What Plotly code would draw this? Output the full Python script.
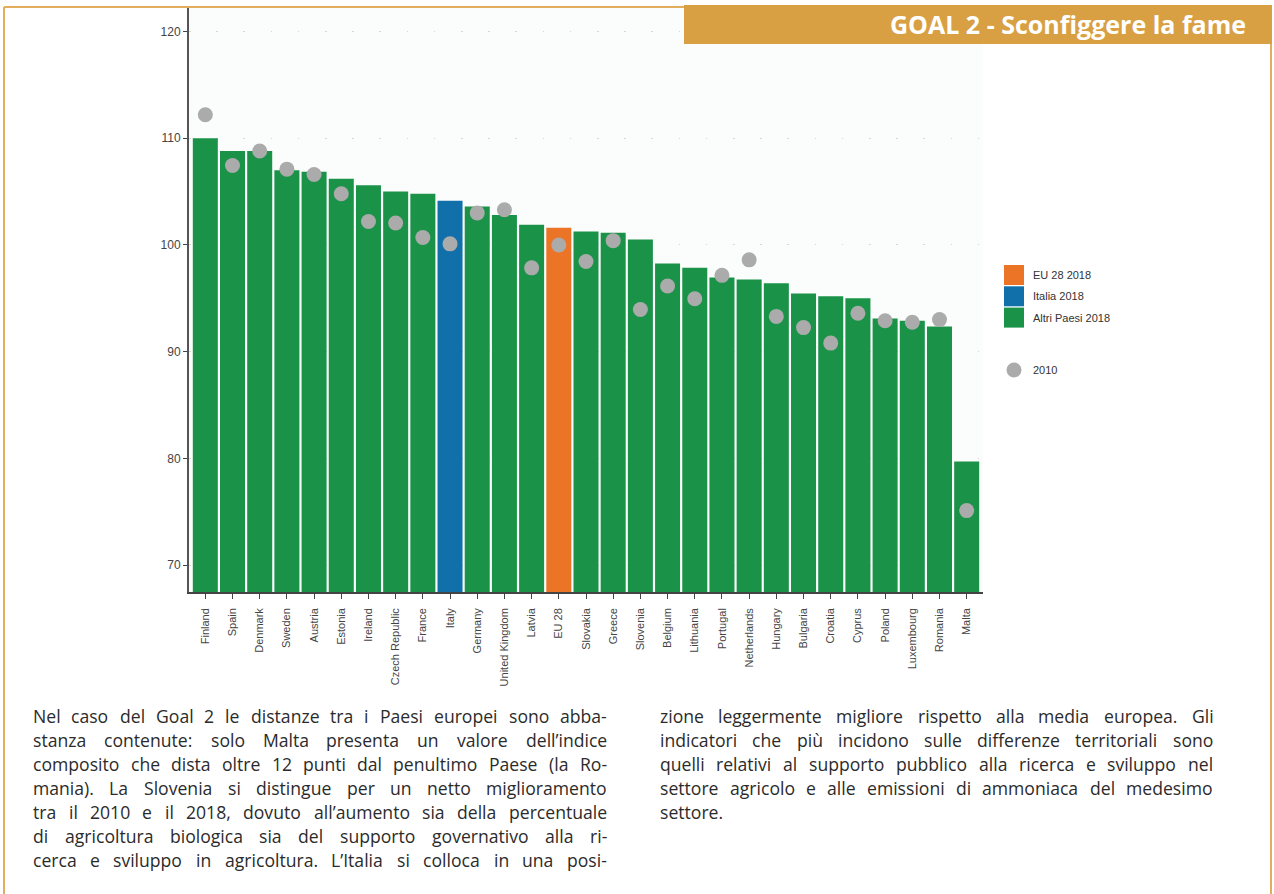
import plotly.graph_objects as go

# Composite index, Goal 2 (zero hunger): 2018 bars and 2010 markers
countries = ["Finland", "Spain", "Denmark", "Sweden", "Austria", "Estonia", "Ireland",
             "Czech Republic", "France", "Italy", "Germany", "United Kingdom", "Latvia",
             "EU 28", "Slovakia", "Greece", "Slovenia", "Belgium", "Lithuania", "Portugal",
             "Netherlands", "Hungary", "Bulgaria", "Croatia", "Cyprus", "Poland",
             "Luxembourg", "Romania", "Malta"]
values_2018 = [110.0, 108.8, 108.8, 107.0, 106.85, 106.2, 105.6, 105.0, 104.8, 104.15,
               103.6, 102.8, 101.9, 101.6, 101.25, 101.15, 100.5, 98.25, 97.85, 96.95,
               96.75, 96.4, 95.45, 95.2, 95.0, 93.1, 92.9, 92.35, 79.7]
values_2010 = [112.2, 107.45, 108.8, 107.1, 106.6, 104.8, 102.2, 102.05, 100.7, 100.1,
               103.0, 103.3, 97.85, 100.0, 98.45, 100.4, 93.95, 96.15, 94.95, 97.15,
               98.6, 93.3, 92.25, 90.8, 93.6, 92.9, 92.75, 93.0, 75.1]
y_ticks = [70, 80, 90, 100, 110, 120]

legend_labels = ["EU 28 2018", "Italia 2018", "Altri Paesi 2018"]
legend_dot_label = "2010"

title_text = "GOAL 2 - Sconfiggere la fame"
left_column = [
    "Nel caso del Goal 2 le distanze tra i Paesi europei sono abba-",
    "stanza contenute: solo Malta presenta un valore dell\u2019indice",
    "composito che dista oltre 12 punti dal penultimo Paese (la Ro-",
    "mania). La Slovenia si distingue per un netto miglioramento",
    "tra il 2010 e il 2018, dovuto all\u2019aumento sia della percentuale",
    "di agricoltura biologica sia del supporto governativo alla ri-",
    "cerca e sviluppo in agricoltura. L\u2019Italia si colloca in una posi-",
]
right_column = [
    "zione leggermente migliore rispetto alla media europea. Gli",
    "indicatori che pi\u00f9 incidono sulle differenze territoriali sono",
    "quelli relativi al supporto pubblico alla ricerca e sviluppo nel",
    "settore agricolo e alle emissioni di ammoniaca del medesimo",
    "settore.",
]

GREEN = "#1a9349"
BLUE = "#1170aa"
ORANGE = "#ec7426"
GREY_DOT = "#ababab"
GOLD = "#d9a043"
FRAME = "#e2ae5e"

W, H = 1274, 894
L, R, T, B = 189, 983, 7, 592  # plot area in pixels


def px(x):
    return (x - L) / (R - L)


def py(y):
    return (B - y) / (B - T)


# Open Sans advance widths (units per 2048 em), used to justify the body text
OPEN_SANS_ADV = {
    " ": 532, "a": 1139, "b": 1255, "c": 975, "d": 1255, "e": 1149, "f": 694, "g": 1122,
    "h": 1257, "i": 518, "j": 518, "k": 1075, "l": 518, "m": 1905, "n": 1257, "o": 1237,
    "p": 1255, "q": 1255, "r": 836, "s": 977, "t": 723, "u": 1257, "\u00f9": 1257,
    "v": 1026, "w": 1593, "x": 1073, "y": 1028, "z": 977, ".": 545, ",": 545, ":": 545,
    "-": 659, "(": 604, ")": 604, "\u2019": 356, "N": 1520, "G": 1448, "L": 1124,
    "P": 1237, "M": 1751, "R": 1290, "S": 1128, "I": 614,
}
for d in "0123456789":
    OPEN_SANS_ADV[d] = 1171


def text_width(s, size):
    return sum(OPEN_SANS_ADV.get(ch, 1100) for ch in s) * size / 2048


def word_note(text, x, y, font):
    return dict(xref="paper", yref="paper", x=px(x), y=py(y), text=text, showarrow=False,
                xanchor="left", yanchor="middle", font=font, borderpad=0, borderwidth=0)


def justified_words(line, x_left, x_right, y, size, font, justify=True):
    words = line.split(" ")
    if not justify or len(words) == 1:
        return [word_note(line, x_left, y, font)]
    widths = [text_width(w, size) for w in words]
    space = text_width(" ", size)
    gap = max(space, (x_right - x_left - sum(widths)) / (len(words) - 1))
    out = []
    x = x_left
    for w, ww in zip(words, widths):
        out.append(word_note(w, x, y, font))
        x += ww + gap
    return out


bar_colors = [ORANGE if c == "EU 28" else BLUE if c == "Italy" else GREEN for c in countries]

fig = go.Figure()
fig.add_trace(go.Bar(
    x=countries, y=values_2018, marker=dict(color=bar_colors, line=dict(width=0)),
    width=0.92, showlegend=False, hoverinfo="x+y"))
fig.add_trace(go.Scatter(
    x=countries, y=values_2010, mode="markers",
    marker=dict(color=GREY_DOT, size=15, line=dict(width=0)),
    showlegend=False))

fig.update_xaxes(
    range=[-0.6, len(countries) - 0.4], tickangle=-90,
    tickfont=dict(family="Liberation Sans, Arial, sans-serif", size=11, color="#444444"),
    showline=True, linecolor="#444444", linewidth=1.5, ticks="outside", ticklen=5,
    tickcolor="#444444", showgrid=False, zeroline=False, ticklabelstandoff=5)
fig.update_yaxes(
    range=[67.47, 122.3], tickvals=y_ticks,
    tickfont=dict(family="Liberation Sans, Arial, sans-serif", size=12, color="#444444"),
    showline=True, linecolor="#555555", linewidth=2, ticks="outside", ticklen=4,
    tickcolor="#444444", showgrid=True, gridcolor="#d6d6d6", griddash="1.5px,25.7px",
    gridwidth=1, zeroline=False)

shapes = []
annotations = []

# page frame and header band
shapes.append(dict(type="line", xref="paper", yref="paper", x0=px(4), x1=px(684),
                   y0=py(7), y1=py(7), line=dict(color=FRAME, width=2)))
shapes.append(dict(type="line", xref="paper", yref="paper", x0=px(4), x1=px(4),
                   y0=py(7), y1=py(H + 5), line=dict(color=FRAME, width=2)))
shapes.append(dict(type="line", xref="paper", yref="paper", x0=px(1271), x1=px(1271),
                   y0=py(40), y1=py(H + 5), line=dict(color=FRAME, width=2)))
shapes.append(dict(type="rect", xref="paper", yref="paper", x0=px(684), x1=px(1272),
                   y0=py(44), y1=py(5), fillcolor=GOLD, line=dict(width=0), layer="above"))
annotations.append(dict(xref="paper", yref="paper", x=px(1248), y=py(24), text=f"<b>{title_text}</b>",
                        showarrow=False, xanchor="right", yanchor="middle",
                        font=dict(family="Open Sans, DejaVu Sans, sans-serif", size=25, color="white")))

# legend
leg_font = dict(family="Liberation Sans, Arial, sans-serif", size=11, color="#333333")
for i, (lab, col) in enumerate(zip(legend_labels, [ORANGE, BLUE, GREEN])):
    y0 = 265 + i * 21.3
    shapes.append(dict(type="rect", xref="paper", yref="paper", x0=px(1004), x1=px(1024),
                       y0=py(y0 + 20), y1=py(y0), fillcolor=col, line=dict(width=0)))
    annotations.append(dict(xref="paper", yref="paper", x=px(1031), y=py(y0 + 10), text=lab,
                            showarrow=False, xanchor="left", yanchor="middle", font=leg_font))
shapes.append(dict(type="circle", xref="paper", yref="paper", x0=px(1006.5), x1=px(1021.5),
                   y0=py(377.5), y1=py(362.5), fillcolor=GREY_DOT, line=dict(width=0)))
annotations.append(dict(xref="paper", yref="paper", x=px(1031), y=py(370), text=legend_dot_label,
                        showarrow=False, xanchor="left", yanchor="middle", font=leg_font))

# body text in two justified columns (size keeps line boxes within the 24 px leading)
BODY_SIZE = 17.6
body_font = dict(family="Open Sans, Noto Sans, sans-serif", size=BODY_SIZE, color="#2b2b2b")
for (x0, x1), lines, justify_last in (((33, 607), left_column, True),
                                       ((660, 1213), right_column, False)):
    for i, line in enumerate(lines):
        is_last = i == len(lines) - 1
        annotations += justified_words(line, x0, x1, 716 + 24 * i, BODY_SIZE, body_font,
                                       justify=justify_last or not is_last)

fig.update_layout(
    width=W, height=H, margin=dict(l=L, r=W - R, t=T, b=H - B, autoexpand=False),
    paper_bgcolor="white", plot_bgcolor="#fbfdfc", bargap=0.08,
    shapes=shapes, annotations=annotations, showlegend=False)

fig.write_html("out.html")
